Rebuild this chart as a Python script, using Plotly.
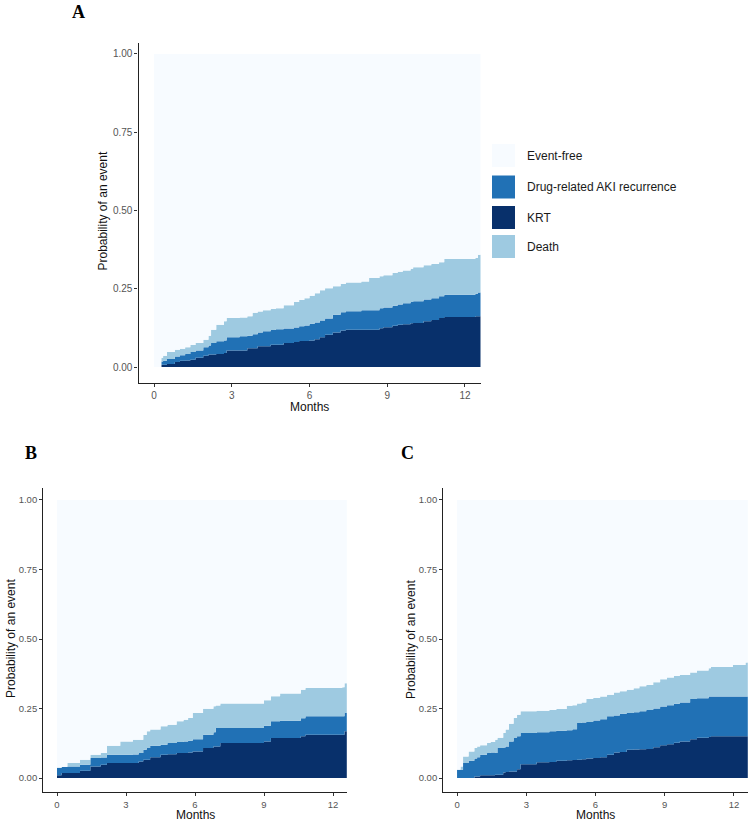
import plotly.graph_objects as go

W, H = 753, 825

# ---------------- data (upper edge of each stacked band) -------------
state_labels = ["Event-free", "Drug-related AKI recurrence", "KRT", "Death"]
state_colors = {"Event-free": "#F7FBFF", "Drug-related AKI recurrence": "#2171B5",
                "KRT": "#08306B", "Death": "#9ECAE1"}

x_ticks = [0, 3, 6, 9, 12]
y_ticks = [0, 0.25, 0.5, 0.75, 1.0]
y_tick_labels = ["0.00", "0.25", "0.50", "0.75", "1.00"]

# Panel A
a_months = [0, 0.28, 0.35, 0.5, 0.8, 1.0, 1.2, 1.4, 1.6, 1.9, 2.1, 2.2, 2.4, 2.7, 2.8, 3.3, 3.6, 3.8,
            4.0, 4.2, 4.5, 4.7, 5.0, 5.4, 5.6, 5.8, 6.0, 6.2, 6.4, 6.6, 6.9, 7.2, 7.4, 8.0, 8.3, 8.7,
            8.85, 9.2, 9.4, 9.6, 9.9, 10.0, 10.4, 10.7, 11.0, 11.2, 12.4, 12.5, 12.8]
a_krt = [0, .007, .007, .010, .016, .020, .021, .023, .030, .036, .040, .040, .042, .045, .053, .053,
         .060, .060, .066, .066, .071, .071, .077, .080, .083, .083, .085, .089, .095, .103, .110, .117,
         .119, .119, .119, .124, .127, .132, .135, .137, .140, .141, .146, .150, .157, .160, .162, .162, .162]
a_aki_top = [0, .018, .020, .026, .034, .038, .042, .048, .053, .063, .069, .077, .082, .085, .095, .098,
             .100, .105, .110, .114, .118, .121, .123, .126, .130, .133, .138, .142, .149, .155, .167, .175,
             .178, .181, .181, .188, .190, .196, .200, .204, .208, .210, .216, .220, .226, .231, .234, .238, .238]
a_death_top = [0, .030, .036, .048, .055, .058, .063, .070, .077, .087, .100, .119, .135, .146, .157, .158,
               .162, .173, .177, .181, .185, .188, .197, .208, .214, .220, .228, .236, .245, .252, .258, .265,
               .270, .273, .284, .290, .293, .300, .304, .308, .314, .319, .325, .329, .335, .345, .348, .359, .359]

# Panel B
b_months = [0, 0.2, 0.45, 1.0, 1.45, 1.9, 2.17, 2.75, 3.3, 3.55, 3.75, 3.9, 4.05, 4.5, 4.8, 5.2, 5.5, 5.7,
            5.9, 6.35, 6.8, 6.9, 7.1, 8.4, 9.0, 9.3, 9.7, 10.6, 10.8, 12.4, 12.5, 12.8]
b_krt = [.01, .018, .018, .026, .042, .048, .054, .054, .054, .06, .066, .066, .075, .084, .086, .09, .09,
         .092, .096, .108, .114, .114, .126, .126, .132, .144, .144, .15, .156, .156, .168, .168]
b_aki_top = [.036, .04, .042, .048, .072, .074, .084, .084, .085, .09, .102, .108, .116, .12, .126, .13, .132,
             .134, .14, .156, .165, .18, .18, .18, .188, .204, .206, .215, .222, .222, .234, .234]
b_death_top = [.038, .04, .054, .066, .084, .09, .116, .132, .138, .138, .155, .168, .175, .186, .192, .204,
               .21, .216, .234, .249, .258, .261, .268, .268, .28, .294, .304, .318, .324, .327, .341, .341]

# Panel C
c_months = [0, 0.15, 0.26, 0.5, 0.75, 0.87, 1.0, 1.3, 1.45, 1.65, 1.75, 2.0, 2.1, 2.25, 2.45, 2.6, 2.75,
            3.45, 4.0, 4.3, 4.75, 5.0, 5.2, 5.4, 5.6, 5.9, 6.2, 6.5, 6.8, 7.05, 7.35, 7.65, 7.9, 8.2, 8.5,
            8.8, 9.1, 9.4, 9.65, 10.1, 10.4, 10.9, 11.0, 11.95, 12.5, 12.8]
c_krt = [0, 0, 0, 0, .006, .006, .01, .01, .01, .012, .012, .02, .022, .024, .024, .032, .05, .057, .058,
         .062, .064, .065, .066, .068, .07, .072, .075, .084, .092, .094, .102, .103, .104, .105, .111, .118,
         .122, .127, .132, .14, .145, .148, .15, .15, .15, .15]
c_aki_top = [.03, .03, .054, .062, .07, .075, .084, .09, .092, .09, .108, .11, .114, .132, .144, .15, .162,
             .165, .168, .17, .172, .176, .198, .2, .202, .207, .212, .222, .225, .231, .234, .237, .24, .245,
             .25, .257, .262, .267, .272, .284, .287, .293, .293, .293, .293, .293]
c_death_top = [.03, .042, .078, .096, .108, .114, .118, .126, .13, .138, .145, .162, .175, .195, .216, .228,
               .24, .242, .245, .248, .26, .262, .268, .272, .284, .288, .293, .3, .308, .312, .318, .323,
               .33, .335, .345, .355, .362, .367, .371, .38, .387, .395, .399, .407, .416, .416]

# ---------------- helpers (reference pixel -> paper coordinate) ----------------
def px(x):
    return x / W

def py(y):
    return 1 - y / H

FONT = "Liberation Sans, Arial, sans-serif"
SERIF = "Liberation Serif, Times New Roman, serif"

fig = go.Figure()

panels = [
    ("", a_months, a_krt, a_aki_top, a_death_top),
    ("2", b_months, b_krt, b_aki_top, b_death_top),
    ("3", c_months, c_krt, c_aki_top, c_death_top),
]

for suffix, t, krt, aki, death in panels:
    xa, ya = "x" + suffix, "y" + suffix
    layers = [
        ("KRT", krt, "tozeroy"),
        ("Drug-related AKI recurrence", aki, "tonexty"),
        ("Death", death, "tonexty"),
        ("Event-free", [1.0] * len(t), "tonexty"),
    ]
    for name, vals, fill in layers:
        fig.add_trace(go.Scatter(
            x=t, y=vals, xaxis=xa, yaxis=ya, mode="lines", name=name,
            line=dict(width=0, shape="hv", color=state_colors[name]),
            fill=fill, fillcolor=state_colors[name], showlegend=False,
            hoverinfo="skip"))

axis_common = dict(showline=True, linecolor="#222222", linewidth=1.2, ticks="outside",
                   ticklen=3, tickwidth=1, tickcolor="#333333", showgrid=False, zeroline=False,
                   fixedrange=True, ticklabelstandoff=0)

def xaxis(dom, anchor, size):
    return dict(axis_common, domain=dom, anchor=anchor, range=[-0.6, 12.6],
                tickvals=x_ticks, ticktext=[str(v) for v in x_ticks],
                tickfont=dict(family=FONT, size=size, color="#555555"))

def yaxis(dom, anchor, rng, size):
    return dict(axis_common, domain=dom, anchor=anchor, range=rng,
                tickvals=y_ticks, ticktext=y_tick_labels,
                tickfont=dict(family=FONT, size=size, color="#555555"))

fig.update_layout(
    width=W, height=H, margin=dict(l=0, r=0, t=0, b=0),
    paper_bgcolor="white", plot_bgcolor="white", showlegend=False,
    xaxis=xaxis([px(138.5), px(480.5)], "y", 10),
    yaxis=yaxis([py(383), py(43)], "x", [-0.051, 1.035], 10),
    xaxis2=xaxis([px(43.2), px(346.8)], "y2", 9.5),
    yaxis2=yaxis([py(792), py(488)], "x2", [-0.05, 1.043], 9.5),
    xaxis3=xaxis([px(443.2), px(747.8)], "y3", 9.5),
    yaxis3=yaxis([py(792), py(488)], "x3", [-0.05, 1.043], 9.5),
)

ann = []

def label(text, x, y, font, angle=0, xanchor="center"):
    ann.append(dict(text=text, x=px(x), y=py(y), xref="paper", yref="paper", showarrow=False,
                    xanchor=xanchor, yanchor="middle", textangle=angle, font=font))

# panel letters
for letter, x, y in [("A", 78, 12), ("B", 31, 453), ("C", 407, 453)]:
    label("<b>%s</b>" % letter, x, y, dict(family=SERIF, size=18, color="black"))
# axis titles
for x, y in [(309.5, 407), (195, 815), (595.5, 815)]:
    label("Months", x, y, dict(family=FONT, size=12, color="#111111"))
for x, y in [(103, 210.5), (11, 639), (411, 639)]:
    label("Probability of an event", x, y, dict(family=FONT, size=12, color="#111111"), angle=-90)

# legend (manual, ggplot style keys)
legend_rows = [155.5, 187, 217.5, 246.5]
shapes = []
for name, yc in zip(state_labels, legend_rows):
    shapes.append(dict(type="rect", xref="paper", yref="paper", x0=px(492), x1=px(515),
                       y0=py(yc + 11.5), y1=py(yc - 11.5), fillcolor=state_colors[name],
                       line=dict(width=0)))
    label(name, 525, yc, dict(family=FONT, size=12, color="#1a1a1a"), xanchor="left")

fig.update_layout(annotations=ann, shapes=shapes)
# remove the browser's default 8px body margin so the figure fills the 753x825 window exactly
fig.write_html("out.html", config={"displayModeBar": False},
               post_script="document.body.style.margin='0px';"
                           "document.body.style.overflow='hidden';")
